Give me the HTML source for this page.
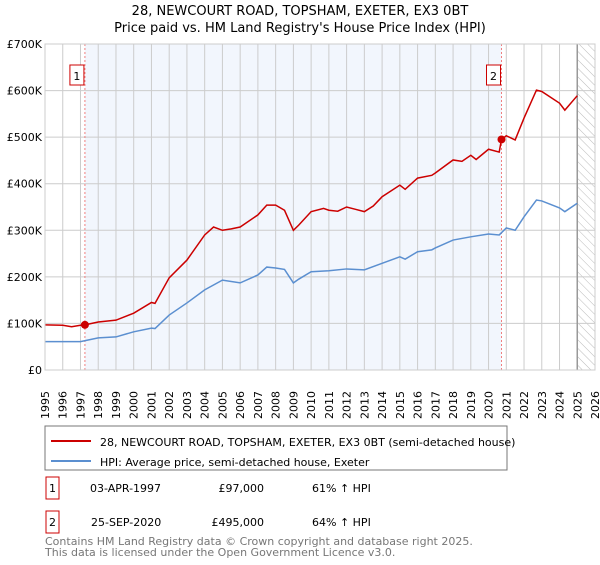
<!DOCTYPE html>
<html><head><meta charset="utf-8"><style>
body{margin:0;background:#fff;font-family:"Liberation Sans","DejaVu Sans",sans-serif;}
svg text{font-family:"DejaVu Sans","Liberation Sans",sans-serif;}
</style></head><body>
<svg id="c" width="600" height="560" viewBox="0 0 600 560" xmlns="http://www.w3.org/2000/svg">
<defs><pattern id="hatch" width="6" height="6" patternUnits="userSpaceOnUse" patternTransform="rotate(-45)"><line x1="0" y1="0" x2="0" y2="6" stroke="#bbb" stroke-width="1"/></pattern></defs>
<text x="300" y="15" text-anchor="middle" font-size="13">28, NEWCOURT ROAD, TOPSHAM, EXETER, EX3 0BT</text>
<text x="300" y="32" text-anchor="middle" font-size="13">Price paid vs. HM Land Registry's House Price Index (HPI)</text>
<g id="plot"></g>
<rect x="45" y="426" width="462" height="44" fill="#fff" stroke="#777"/>
<line x1="51" y1="441" x2="91" y2="441" stroke="#cc0000" stroke-width="2"/>
<text x="100" y="446" font-size="11">28, NEWCOURT ROAD, TOPSHAM, EXETER, EX3 0BT (semi-detached house)</text>
<line x1="51" y1="461" x2="91" y2="461" stroke="#5b8fd0" stroke-width="2"/>
<text x="100" y="466" font-size="11">HPI: Average price, semi-detached house, Exeter</text>
<g>
<rect x="46" y="477" width="13" height="22" fill="#fff" stroke="#cc0000"/>
<text x="52.5" y="492" font-size="11" text-anchor="middle">1</text>
<text x="90" y="492" font-size="11">03-APR-1997</text>
<text x="264" y="492" font-size="11" text-anchor="end">£97,000</text>
<text x="312" y="492" font-size="11">61% ↑ HPI</text>
</g>
<g>
<rect x="46" y="511" width="13" height="22" fill="#fff" stroke="#cc0000"/>
<text x="52.5" y="526" font-size="11" text-anchor="middle">2</text>
<text x="91" y="526" font-size="11">25-SEP-2020</text>
<text x="264" y="526" font-size="11" text-anchor="end">£495,000</text>
<text x="312" y="526" font-size="11">64% ↑ HPI</text>
</g>
<text x="45" y="545" font-size="11" fill="#777">Contains HM Land Registry data © Crown copyright and database right 2025.</text>
<text x="45" y="556" font-size="11" fill="#777">This data is licensed under the Open Government Licence v3.0.</text>
</svg>
<script>
const yearTicks=[1995,1996,1997,1998,1999,2000,2001,2002,2003,2004,2005,2006,2007,2008,2009,2010,2011,2012,2013,2014,2015,2016,2017,2018,2019,2020,2021,2022,2023,2024,2025,2026];
const valueTicks=[0,100,200,300,400,500,600,700];
const valueTickLabels=["£0","£100K","£200K","£300K","£400K","£500K","£600K","£700K"];
const redYears=[1995,1996,1996.5,1997,1997.25,1998,1999,2000,2001,2001.2,2002,2003,2004,2004.5,2005,2005.5,2006,2007,2007.5,2008,2008.5,2009,2009.3,2010,2010.7,2011,2011.5,2012,2012.5,2013,2013.5,2014,2015,2015.3,2016,2016.8,2017,2018,2018.5,2019,2019.3,2020,2020.6,2020.73,2021,2021.5,2022,2022.7,2023,2024,2024.3,2025];
const redValues=[97,96,93,96,97,103,107,122,145,143,198,236,290,307,300,303,307,333,354,354,343,300,311,340,347,343,341,350,345,340,352,372,397,388,412,418,423,451,448,461,452,474,468,495,503,494,541,601,598,573,558,589];
const blueYears=[1995,1997,1998,1999,2000,2001,2001.2,2002,2003,2004,2005,2006,2007,2007.5,2008,2008.5,2009,2009.3,2010,2011,2012,2013,2014,2015,2015.3,2016,2016.8,2017,2018,2019,2020,2020.6,2021,2021.5,2022,2022.7,2023,2024,2024.3,2025];
const blueValues=[61,61,69,71,82,90,89,118,144,172,193,187,204,221,219,216,187,195,211,213,217,215,229,243,238,254,258,262,279,286,292,290,305,300,329,365,363,348,340,358];
const saleYears=[1997.25,2020.73];
const saleValues=[97,495];
const saleLabels=["1","2"];
const X0=45,X1=595,Y0=370,Y1=44,YMIN=1995,YMAX=2026,VMAX=700;
const xs=y=>X0+(y-YMIN)/(YMAX-YMIN)*(X1-X0);
const ys=v=>Y0-v/VMAX*(Y0-Y1);
const NS="http://www.w3.org/2000/svg";
const g=document.getElementById('plot');
function mk(t,a,p){const e=document.createElementNS(NS,t);for(const k in a)e.setAttribute(k,a[k]);(p||g).appendChild(e);return e;}
let e;
e=mk('rect',{x:xs(saleYears[0]),y:Y1,width:xs(saleYears[1])-xs(saleYears[0]),height:Y0-Y1,fill:'#f2f6fd'});


e=mk('rect',{x:xs(2025),y:Y1,width:xs(2026)-xs(2025),height:Y0-Y1,fill:'url(#hatch)'});


yearTicks.forEach(y=>{
 e=mk('line',{x1:xs(y),x2:xs(y),y1:Y1,y2:Y0,stroke:'#ccc','stroke-width':1});
 
 
 e=mk('text',{x:0,y:0,'font-size':11,transform:`translate(${xs(y)+4},${Y0+49}) rotate(-90)`});
 e.textContent=y;
 
 
});
valueTicks.forEach((v,i)=>{
 e=mk('line',{x1:X0,x2:X1,y1:ys(v),y2:ys(v),stroke:'#ccc','stroke-width':1});
 
 
 e=mk('text',{x:X0-3,y:ys(v)+4,'font-size':11,'text-anchor':'end'});
 e.textContent=valueTickLabels[i];
 
 
});
e=mk('line',{x1:xs(2025),x2:xs(2025),y1:Y1,y2:Y0,stroke:'#999','stroke-width':1.5});


saleYears.forEach((y,i)=>{
 e=mk('line',{x1:xs(y),x2:xs(y),y1:Y1,y2:Y0,stroke:'#f08080','stroke-dasharray':'2,2','stroke-width':1});
 
 
 e=mk('rect',{x:xs(y)-15,y:65,width:14,height:20,fill:'#fff',stroke:'#cc0000'});
 
 
 e=mk('text',{x:xs(y)-8,y:80,'font-size':11,'text-anchor':'middle'});
 e.textContent=saleLabels[i];
 
 
});
e=mk('polyline',{points:blueYears.map((y,i)=>xs(y)+','+ys(blueValues[i])).join(' '),fill:'none',stroke:'#5b8fd0','stroke-width':1.5});


e=mk('polyline',{points:redYears.map((y,i)=>xs(y)+','+ys(redValues[i])).join(' '),fill:'none',stroke:'#cc0000','stroke-width':1.5});


saleYears.forEach((y,i)=>{
 e=mk('circle',{cx:xs(y),cy:ys(saleValues[i]),r:4,fill:'#cc0000'});
 
 
});
e=mk('rect',{x:X0,y:Y1,width:X1-X0,height:Y0-Y1,fill:'none',stroke:'#ccc'});


</script>
</body></html>
